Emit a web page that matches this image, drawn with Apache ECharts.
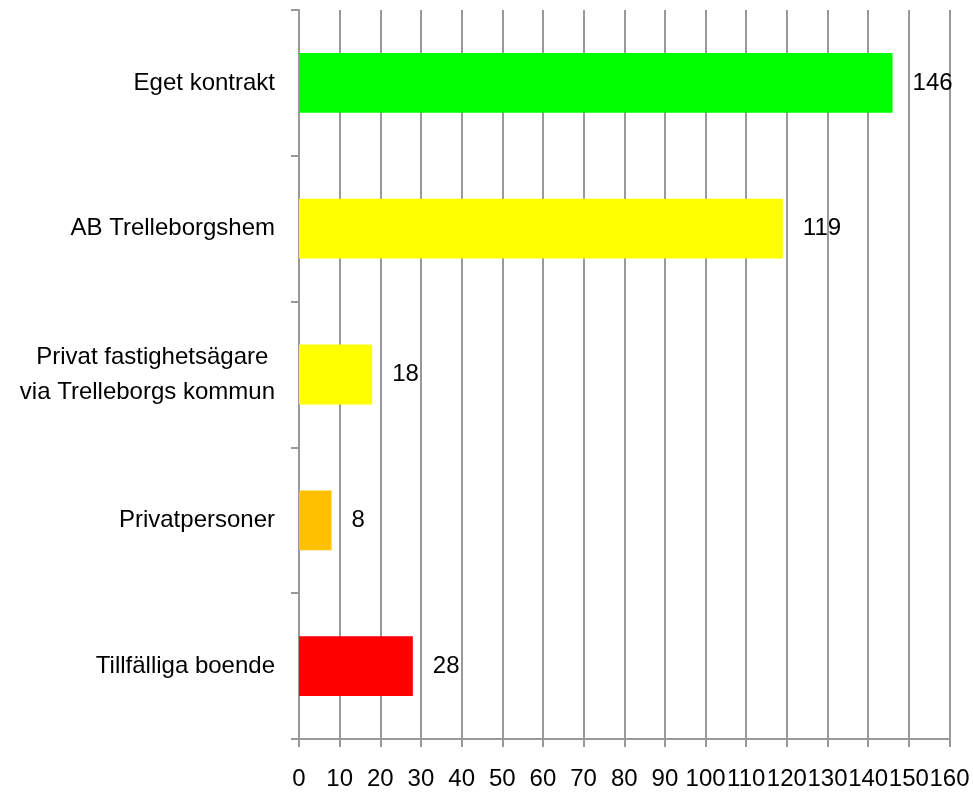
<!DOCTYPE html>
<html>
<head>
<meta charset="utf-8">
<script src="https://cdn.jsdelivr.net/npm/echarts@6/dist/echarts.min.js"></script>
<style>
html,body{margin:0;padding:0;background:#fff;}
#chart{width:973px;height:794px;}
</style>
</head>
<body>
<div id="chart"></div>
<script>
const categories = ["Eget kontrakt", "AB Trelleborgshem", "Privat fastighetsägare \nvia Trelleborgs kommun", "Privatpersoner", "Tillfälliga boende"];
const values = [146, 119, 18, 8, 28];
const colors = ["#00FF00", "#FFFF00", "#FFFF00", "#FFC000", "#FF0000"];

const chart = echarts.init(document.getElementById('chart'));
const lineColor = '#999999';
const font = '"Liberation Sans", Arial, sans-serif';
chart.setOption({
  animation: false,
  backgroundColor: '#ffffff',
  grid: { left: 299, right: 23.5, top: 10, bottom: 55, containLabel: false },
  xAxis: {
    type: 'value', min: 0, max: 160, interval: 10,
    axisLine: { show: true, lineStyle: { color: lineColor, width: 2 } },
    axisTick: { show: true, length: 8, lineStyle: { color: lineColor, width: 2 } },
    splitLine: { show: true, lineStyle: { color: lineColor, width: 2 } },
    axisLabel: { color: '#000', fontFamily: font, fontSize: 24, margin: 28, hideOverlap: false }
  },
  yAxis: {
    type: 'category', inverse: true, data: categories,
    axisLine: { show: true, lineStyle: { color: lineColor, width: 2 } },
    axisTick: { show: true, length: 8, lineStyle: { color: lineColor, width: 2 } },
    axisLabel: { color: '#000', fontFamily: font, fontSize: 24, margin: 24, align: 'right', lineHeight: 35 }
  },
  series: [{
    type: 'bar',
    data: values.map((v, i) => ({ value: v, itemStyle: { color: colors[i] } })),
    barCategoryGap: '59%',
    label: { show: true, position: 'right', distance: 20, color: '#000', fontFamily: font, fontSize: 24 }
  }]
});
</script>
</body>
</html>
